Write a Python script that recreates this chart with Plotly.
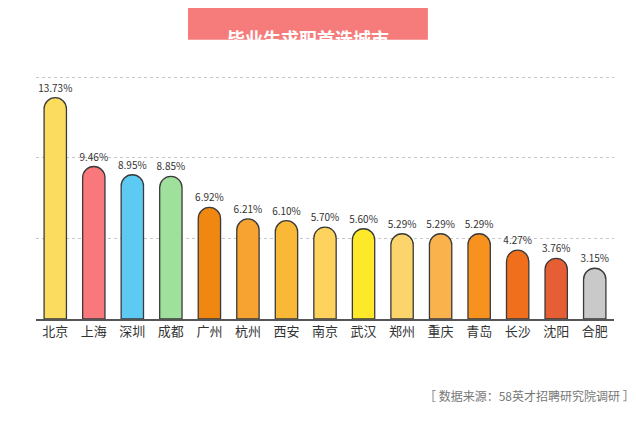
import plotly.graph_objects as go

cities = ["北京", "上海", "深圳", "成都", "广州", "杭州", "西安", "南京",
          "武汉", "郑州", "重庆", "青岛", "长沙", "沈阳", "合肥"]
shares = [13.73, 9.46, 8.95, 8.85, 6.92, 6.21, 6.10, 5.70,
          5.60, 5.29, 5.29, 5.29, 4.27, 3.76, 3.15]
colors = ["#fbdc5e", "#f8787c", "#5ccaf2", "#9fe09c", "#ef8710", "#f7a331",
          "#f9b836", "#fdd35e", "#fde82a", "#fcd46c", "#f9b24c", "#f7921f",
          "#f06f1c", "#e65f34", "#c9c9c9"]

fig = go.Figure(go.Bar(
    x=cities, y=shares,
    marker=dict(color=colors, line=dict(color="#3a3a3a", width=1.3), cornerradius="50%"),
    text=[f"{v:.2f}%" for v in shares], textposition="outside",
    textfont=dict(size=10, color="#333"), cliponaxis=False,
))

fig.update_layout(
    width=636, height=422,
    margin=dict(l=28, r=30, t=66, b=111),
    paper_bgcolor="white", plot_bgcolor="white",
    bargap=0.42, showlegend=False,
    uniformtext=dict(minsize=10, mode="show"),
    font=dict(family="Noto Sans CJK SC"),
    xaxis=dict(showline=True, linecolor="#555", linewidth=1.5, ticks="",
               tickfont=dict(size=13, color="#333")),
    yaxis=dict(range=[0, 15.2], tickvals=[5, 10, 15], showticklabels=False,
               gridcolor="#c8c8c8", griddash="dot", zeroline=False),
    shapes=[dict(type="rect", xref="paper", yref="paper", x0=0.263, x1=0.678,
                 y0=1.14, y1=1.28, fillcolor="#f67b7b", line_width=0, layer="below")],
    annotations=[
        dict(text="<b>毕业生求职首选城市</b>", xref="paper", yref="paper", x=0.47, y=1.21,
             showarrow=False, font=dict(size=18, color="white")),
        dict(text="［ 数据来源：58英才招聘研究院调研 ］", xref="paper", yref="paper",
             x=1.04, y=-0.354, xanchor="right", showarrow=False,
             font=dict(size=12, color="#777")),
    ],
)

fig.write_html("out.html")
